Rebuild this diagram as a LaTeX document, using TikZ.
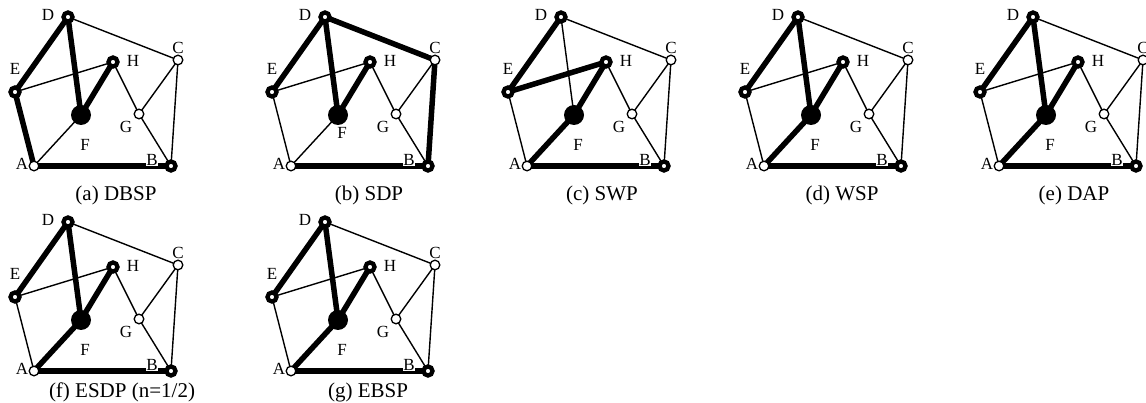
\documentclass[tikz,border=0pt]{standalone}
\usepackage{fontspec}
\setmainfont{Liberation Serif}
\usetikzlibrary{backgrounds}

\begin{document}
\begin{tikzpicture}[
    x=1pt, y=-1pt,
    ring/.style={circle, draw=black, line width=4.3pt, fill=white, minimum size=9pt, inner sep=0pt},
    open/.style={circle, draw=black, line width=1.3pt, fill=white, minimum size=9.6pt, inner sep=0pt},
    hub/.style={circle, fill=black, minimum size=20pt, inner sep=0pt},
    lbl/.style={font=\fontsize{17}{17}\selectfont, fill=white, inner sep=0.8pt},
    caption/.style={font=\fontsize{21}{21}\selectfont, anchor=base},
    thin edge/.style={line width=1.4pt},
    thick edge/.style={line width=5.5pt}
]
\useasboundingbox (0,0) rectangle (1146,403);

% One panel per scheme: offset, bold edges, caption position, caption, F label height
\foreach \p/\dx/\dy/\thk/\cx/\cy/\cap/\fy in {
    a/0/0/{D/E,D/F,F/H,E/A,A/B}/116/201/{(a) DBSP}/145,
    b/257/0/{D/E,D/F,F/H,D/C,C/B,A/B}/112/201/{(b) SDP}/133,
    c/493/0/{D/E,E/H,H/F,F/A,A/B}/109/201/{(c) SWP}/145,
    d/730/0/{D/E,D/F,F/H,F/A,A/B}/112/201/{(d) WSP}/145,
    e/965/0/{D/E,D/F,F/H,F/A,A/B}/109/201/{(e) DAP}/145,
    f/0/205/{D/E,D/F,F/H,F/A,A/B}/122/192/{(f) ESDP (n=1/2)}/145,
    g/257/205/{D/E,D/F,F/H,F/A,A/B}/111/192/{(g) EBSP}/145}
{
  \begin{scope}[shift={(\dx,\dy)}]
    % Labels
    \node[lbl] (\p lD) at (48,15) {D};
    \node[lbl] (\p lE) at (15,69) {E};
    \node[lbl] (\p lH) at (133,61) {H};
    \node[lbl] (\p lC) at (178,48) {C};
    \node[lbl] (\p lG) at (126,127) {G};
    \node[lbl] (\p lF) at (85,\fy) {F};
    \node[lbl] (\p lA) at (22,164) {A};
    \node[lbl] (\p lB) at (152,160) {B};

    % Nodes
    \node[ring] (\p D) at (68,17) {};
    \node[open] (\p C) at (178,60) {};
    \node[ring] (\p H) at (113,62) {};
    \node[ring] (\p E) at (15,92) {};
    \node[hub]  (\p F) at (81,115) {};
    \node[open] (\p G) at (139,114) {};
    \node[open] (\p A) at (34,166) {};
    \node[ring] (\p B) at (171,166) {};

    % Edges
    \begin{scope}[on background layer]
      \foreach \u/\v in {A/B,B/C,C/D,D/E,E/A,D/F,F/H,F/A,E/H,H/G,G/C,G/B}
        \draw[thin edge] (\p\u.center) -- (\p\v.center);
      \foreach \u/\v in \thk
        \draw[thick edge] (\p\u.center) -- (\p\v.center);
    \end{scope}

    \node[caption] (\p cap) at (\cx,\cy) {\cap};
  \end{scope}
}

\end{tikzpicture}
\end{document}
